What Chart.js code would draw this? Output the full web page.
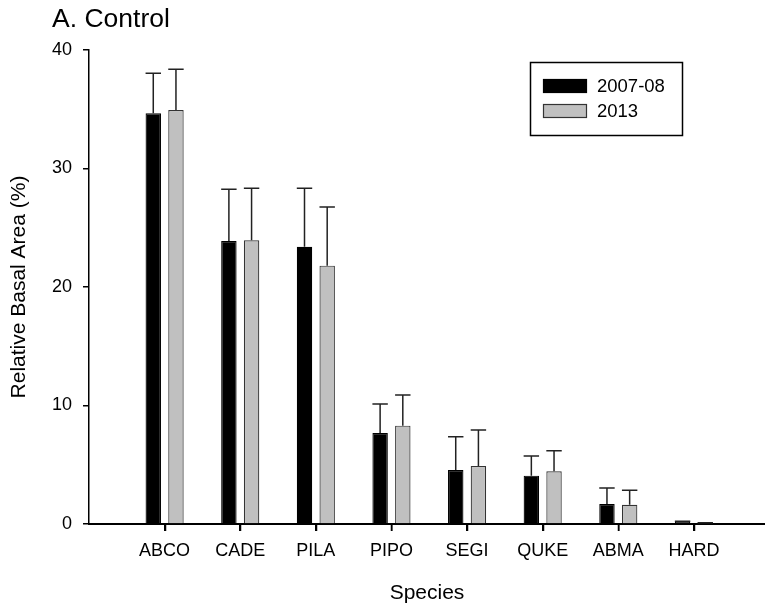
<!DOCTYPE html>
<html>
<head>
<meta charset="utf-8">
<script src="https://cdn.jsdelivr.net/npm/chart.js@4/dist/chart.umd.min.js"></script>
<style>
  html, body { margin: 0; padding: 0; background: #fff; overflow: hidden; }
  #wrap { width: 765px; height: 609px; }
</style>
</head>
<body>
<div id="wrap"><canvas id="chart" width="765" height="609"></canvas></div>
<script>
const species = ['ABCO', 'CADE', 'PILA', 'PIPO', 'SEGI', 'QUKE', 'ABMA', 'HARD'];

const means2007 = [34.66, 23.88, 23.4, 7.68, 4.56, 4.08, 1.69, 0.2];
const errors2007 = [3.37, 4.36, 4.93, 2.45, 2.81, 1.66, 1.35, 0.04];

const means2013 = [34.94, 23.94, 21.8, 8.3, 4.9, 4.45, 1.63, 0.07];
const errors2013 = [3.43, 4.39, 4.96, 2.59, 3.03, 1.74, 1.21, 0.03];

const yTicks = [0, 10, 20, 30, 40];

const FONT = 'Liberation Sans, Arial, sans-serif';

// upper error bars, drawn from the bar elements
const errorBars = {
  id: 'errorBars',
  afterDatasetsDraw(chart) {
    const { ctx } = chart;
    const y = chart.scales.y;
    chart.data.datasets.forEach((ds, i) => {
      const meta = chart.getDatasetMeta(i);
      meta.data.forEach((bar, j) => {
        const top = y.getPixelForValue(ds.data[j].y + ds.errors[j]);
        const half = bar.width / 2;
        ctx.save();
        ctx.strokeStyle = '#222';
        ctx.lineWidth = 1.5;
        ctx.beginPath();
        ctx.moveTo(bar.x, bar.y);
        ctx.lineTo(bar.x, top);
        ctx.moveTo(bar.x - half, top);
        ctx.lineTo(bar.x + half, top);
        ctx.stroke();
        ctx.restore();
      });
    });
  }
};

// category tick marks below the x axis, from the scale's own tick positions
const xTickMarks = {
  id: 'xTickMarks',
  afterDraw(chart) {
    const { ctx } = chart;
    const x = chart.scales.x;
    ctx.save();
    ctx.strokeStyle = '#000';
    ctx.lineWidth = 1.5;
    ctx.beginPath();
    x.ticks.forEach((_, i) => {
      const px = Math.round(x.getPixelForTick(i)) + 0.5;
      ctx.moveTo(px, x.top);
      ctx.lineTo(px, x.top + 7);
    });
    ctx.stroke();
    ctx.restore();
  }
};

// title in the corner and the boxed legend
const decorations = {
  id: 'decorations',
  afterDraw(chart) {
    const { ctx } = chart;
    ctx.save();
    ctx.fillStyle = '#000';
    ctx.font = `26.5px ${FONT}`;
    ctx.textBaseline = 'alphabetic';
    ctx.textAlign = 'left';
    ctx.fillText('A. Control', 52, 27);

    ctx.lineWidth = 1.5;
    ctx.strokeStyle = '#000';
    ctx.strokeRect(530.5, 62.5, 152, 73);
    ctx.font = `18.5px ${FONT}`;
    ctx.textBaseline = 'middle';
    chart.data.datasets.forEach((ds, i) => {
      const top = 79 + i * 25;
      ctx.fillStyle = ds.backgroundColor;
      ctx.fillRect(543, top, 44, 14);
      ctx.strokeStyle = ds.borderColor;
      ctx.lineWidth = 1.2;
      ctx.strokeRect(543.5, top + 0.5, 43, 13);
      ctx.fillStyle = '#000';
      ctx.fillText(ds.label, 597, top + 8);
    });
    ctx.restore();
  }
};

const toPoints = values => values.map((v, i) => ({ x: i + 1, y: v }));

new Chart(document.getElementById('chart'), {
  type: 'bar',
  data: {
    datasets: [
      {
        label: '2007-08',
        data: toPoints(means2007),
        errors: errors2007,
        backgroundColor: '#000000',
        borderColor: '#000000',
        borderWidth: 1.2
      },
      {
        label: '2013',
        data: toPoints(means2013),
        errors: errors2013,
        backgroundColor: '#c0c0c0',
        borderColor: '#333333',
        borderWidth: 1.2
      }
    ]
  },
  options: {
    responsive: false,
    animation: false,
    categoryPercentage: 0.6,
    barPercentage: 0.68,
    layout: { padding: { left: 0, right: 0, top: 50, bottom: 0 } },
    plugins: {
      legend: { display: false },
      tooltip: { enabled: false },
      title: { display: false }
    },
    scales: {
      x: {
        type: 'linear',
        offset: false,
        min: 0,
        max: 8.94,
        afterBuildTicks: s => { s.ticks = species.map((_, i) => ({ value: i + 1 })); },
        afterFit: s => { s.height = 85; },
        ticks: {
          autoSkip: false,
          maxRotation: 0,
          padding: 9,
          color: '#000',
          font: { family: FONT, size: 18 },
          callback: v => species[v - 1] ?? ''
        },
        grid: {
          display: true,
          offset: false,
          drawOnChartArea: false,
          drawTicks: true,
          tickLength: 7,
          color: '#000',
          tickColor: '#000',
          lineWidth: 1.5,
          tickWidth: 1.5
        },
        border: { display: true, color: '#000', width: 2 },
        title: {
          display: true,
          text: 'Species',
          color: '#000',
          font: { family: FONT, size: 21 },
          padding: { top: 0, bottom: 3 }
        }
      },
      y: {
        min: 0,
        max: 40,
        afterBuildTicks: s => { s.ticks = yTicks.map(v => ({ value: v })); },
        afterFit: s => { s.width = 89; },
        ticks: {
          padding: 11,
          color: '#000',
          font: { family: FONT, size: 18 }
        },
        grid: {
          display: true,
          drawOnChartArea: false,
          drawTicks: true,
          tickLength: 6,
          color: '#000',
          tickColor: '#000',
          lineWidth: 1.5,
          tickWidth: 1.5
        },
        border: { display: true, color: '#000', width: 1.5 },
        title: {
          display: true,
          text: 'Relative Basal Area (%)',
          color: '#000',
          font: { family: FONT, size: 21 },
          padding: { top: 7, bottom: 0 }
        }
      }
    }
  },
  plugins: [errorBars, xTickMarks, decorations]
});
</script>
</body>
</html>
